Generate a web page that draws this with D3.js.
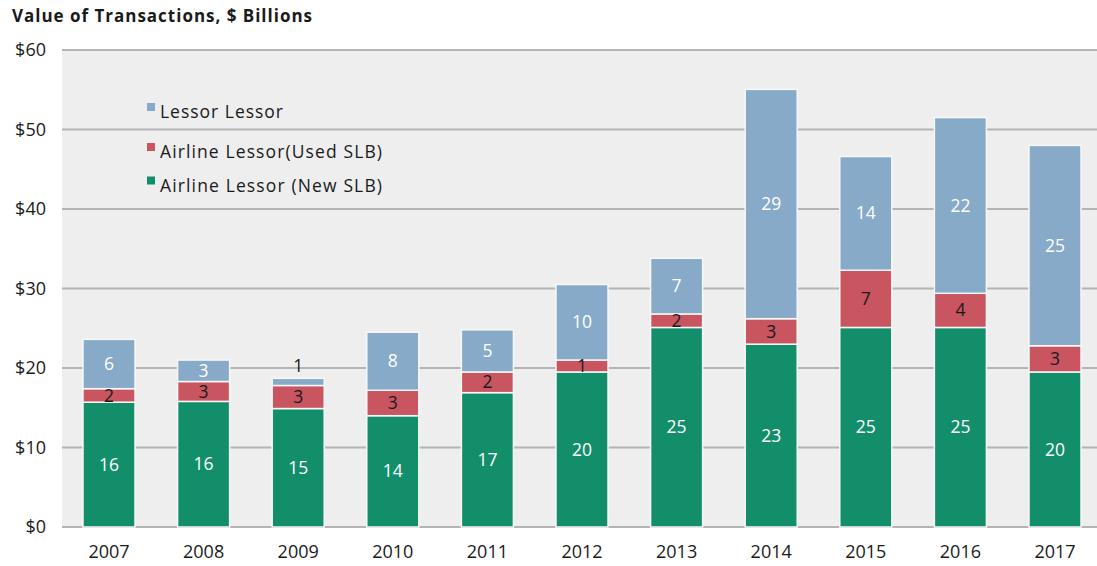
<!DOCTYPE html>
<html><head><meta charset="utf-8">
<script src="https://cdn.jsdelivr.net/npm/d3@7"></script>
<style>
html,body{margin:0;padding:0;background:#fff;}
svg{display:block;font-family:"Open Sans",sans-serif;}
</style></head>
<body>
<svg id="chart" width="1097" height="566"></svg>
<script>
const years = ["2007","2008","2009","2010","2011","2012","2013","2014","2015","2016","2017"];
const newSLB = [15.7, 15.8, 14.9, 14.0, 16.9, 19.5, 25.1, 23.0, 25.1, 25.1, 19.5];
const usedSLB = [1.7, 2.5, 2.9, 3.2, 2.6, 1.5, 1.7, 3.2, 7.2, 4.3, 3.3];
const lessorLessor = [6.2, 2.7, 0.9, 7.3, 5.3, 9.5, 7.0, 28.85, 14.3, 22.1, 25.2];
const newLabels = [16, 16, 15, 14, 17, 20, 25, 23, 25, 25, 20];
const usedLabels = [2, 3, 3, 3, 2, 1, 2, 3, 7, 4, 3];
const lessorLabels = [6, 3, 1, 8, 5, 10, 7, 29, 14, 22, 25];
const yTicks = [0, 10, 20, 30, 40, 50, 60];
const seriesNames = ["Airline Lessor (New SLB)", "Airline Lessor(Used SLB)", "Lessor Lessor"];
const seriesKeys = ["newSLB", "usedSLB", "lessor"];
const colors = {newSLB: "#138e6b", usedSLB: "#c8555f", lessor: "#86aac8"};
const textColors = {newSLB: "#ffffff", usedSLB: "#1a1a1a", lessor: "#ffffff"};
const labelArrays = {newSLB: newLabels, usedSLB: usedLabels, lessor: lessorLabels};

const svg = d3.select("#chart");
const W = 1097, H = 566;
const plotLeft = 62, plotTop = 49, plotBottom = 527;

const data = years.map((y, i) => ({year: y, newSLB: newSLB[i], usedSLB: usedSLB[i], lessor: lessorLessor[i], i}));

const x = d3.scaleBand().domain(years).range([61.7, 61.7 + 11 * 94.6]).paddingInner(0.45).paddingOuter(0.225);
const y = d3.scaleLinear().domain([0, 60]).range([plotBottom, 50]);

// background
svg.append("rect").attr("x", plotLeft).attr("y", plotTop).attr("width", W - plotLeft).attr("height", plotBottom - plotTop + 1).attr("fill", "#eeeeee");

// title
svg.append("text").attr("x", 12).attr("y", 22).attr("font-size", 17).attr("font-weight", 700).attr("fill", "#1a1a1a")
  .attr("textLength", 300).attr("lengthAdjust", "spacing").text("Value of Transactions, $ Billions");

// grid
svg.append("g").selectAll("line").data(yTicks).join("line")
  .attr("x1", plotLeft).attr("x2", W).attr("y1", d => y(d)).attr("y2", d => y(d))
  .attr("stroke", "#b4b4b4").attr("stroke-width", 2);

// y axis labels
const yAxis = d3.axisLeft(y).tickValues(yTicks).tickFormat(d => "$" + d).tickSize(0).tickPadding(0);
const ya = svg.append("g").attr("transform", "translate(46,0)").call(yAxis);
ya.select(".domain").remove();
ya.selectAll("text").attr("font-size", 18).attr("font-family", "Open Sans").attr("fill", "#1a1a1a");

// x axis labels
const xAxis = d3.axisBottom(x).tickSize(0).tickPadding(0);
const xa = svg.append("g").attr("transform", "translate(0,545)").call(xAxis);
xa.select(".domain").remove();
xa.selectAll("text").attr("font-size", 18).attr("font-family", "Open Sans").attr("fill", "#1a1a1a");

// stacked bars
const stack = d3.stack().keys(seriesKeys)(data);
const g = svg.append("g");
stack.forEach(layer => {
  const key = layer.key;
  g.append("g").selectAll("rect").data(layer).join("rect")
    .attr("x", d => x(d.data.year))
    .attr("width", x.bandwidth())
    .attr("y", d => y(d[1]))
    .attr("height", d => y(d[0]) - y(d[1]))
    .attr("fill", colors[key])
    .attr("stroke", "#f7f7f7").attr("stroke-width", 1.5);
});
stack.forEach(layer => {
  const key = layer.key;
  g.append("g").selectAll("text").data(layer).join("text")
    .attr("x", d => x(d.data.year) + x.bandwidth() / 2)
    .attr("y", d => {
      const h = y(d[0]) - y(d[1]);
      return h < 10 ? y(d[1]) - 12 : (y(d[0]) + y(d[1])) / 2;
    })
    .attr("dy", "0.35em")
    .attr("text-anchor", "middle")
    .attr("font-size", 17.5)
    .attr("fill", d => (y(d[0]) - y(d[1]) < 10) ? "#1a1a1a" : textColors[key])
    .text(d => labelArrays[key][d.data.i]);
});

// legend
const legendItems = [
  {name: seriesNames[2], key: "lessor", by: 118, len: 123},
  {name: seriesNames[1], key: "usedSLB", by: 158, len: 222},
  {name: seriesNames[0], key: "newSLB", by: 191.5, len: 222}
];
const lg = svg.append("g");
legendItems.forEach(it => {
  lg.append("rect").attr("x", 147).attr("y", it.by - 15).attr("width", 8).attr("height", 8).attr("fill", colors[it.key]);
  lg.append("text").attr("x", 160).attr("y", it.by).attr("font-size", 17.5).attr("fill", "#1a1a1a")
    .attr("textLength", it.len).attr("lengthAdjust", "spacing").text(it.name);
});
</script>
</body></html>
